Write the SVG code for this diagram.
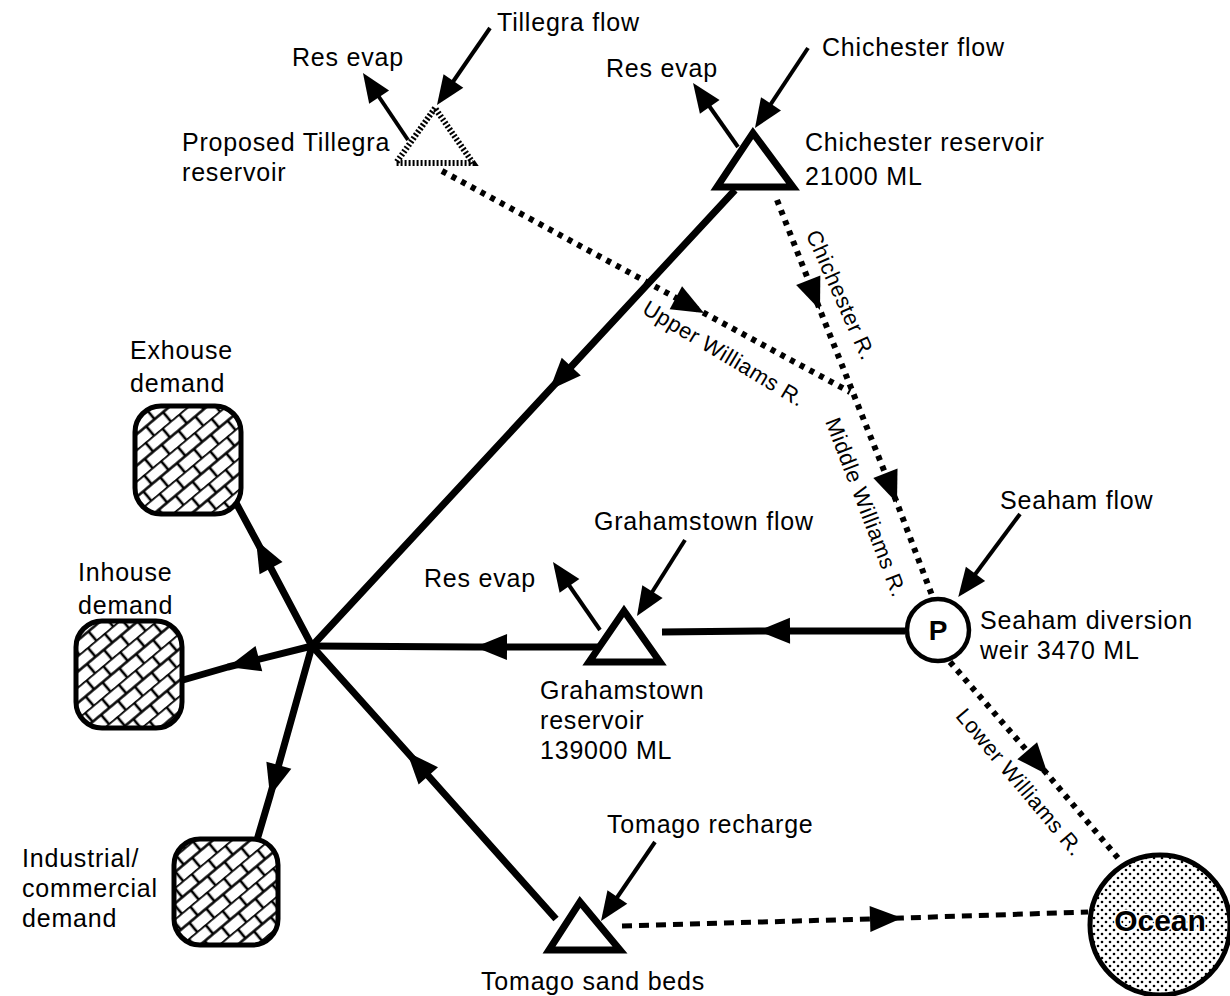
<svg xmlns="http://www.w3.org/2000/svg" width="1230" height="996" viewBox="0 0 1230 996">
<style>
text{font-family:"Liberation Sans",Arial,sans-serif;font-size:25px;letter-spacing:0.8px;fill:#000}
.rl{font-size:22px;letter-spacing:0.5px}
.thick{stroke:#000;stroke-width:7;fill:none;stroke-linejoin:round}
.thin{stroke:#000;stroke-width:4;fill:none}
.dash{stroke:#000;stroke-width:6;fill:none;stroke-dasharray:5 6}
.dash2{stroke:#000;stroke-width:5;fill:none;stroke-dasharray:10 7}
.tri{stroke:#000;stroke-width:7;fill:#fff;stroke-linejoin:miter}
.box{stroke:#000;stroke-width:5;fill:url(#brick)}
</style>
<defs>
<marker id="ahm" markerUnits="userSpaceOnUse" orient="auto" refX="0" refY="0" markerWidth="34" markerHeight="28" overflow="visible"><path d="M0,0 L-32,-13 L-32,13 z" fill="#000"/></marker>
<marker id="ahe" markerUnits="userSpaceOnUse" orient="auto" refX="0" refY="0" markerWidth="34" markerHeight="28" overflow="visible"><path d="M6,0 L-23,-12 L-23,12 z" fill="#000"/></marker>
<pattern id="brick" width="22" height="24" patternUnits="userSpaceOnUse" patternTransform="rotate(-40)">
<rect width="22" height="24" fill="#fff"/>
<path d="M0,0.5 H22 M0,12.5 H22 M3,0.5 V12.5 M14,12.5 V24.5" stroke="#000" stroke-width="2.6" fill="none"/>
</pattern>
<pattern id="dots" width="8" height="8" patternUnits="userSpaceOnUse">
<rect width="8" height="8" fill="#fff"/>
<circle cx="2" cy="2" r="1.3" fill="#000"/><circle cx="6" cy="6" r="1.3" fill="#000"/>
</pattern>
</defs>
<rect width="1230" height="996" fill="#fff"/>

<g id="connectors">
<!-- dashed rivers -->
<path class="dash" d="M442,171 L704,313 L850,392" marker-mid="url(#ahm)"/>
<path class="dash" d="M777,200 L820,310 L897,503 L933,598" marker-mid="url(#ahm)"/>
<path class="dash" d="M950,662 L1048,775 L1118,858" marker-mid="url(#ahm)"/>
<path class="dash2" d="M622,926 L902,918 L1088,912" marker-mid="url(#ahm)"/>
<!-- thick supply lines -->
<path class="thick" d="M735,190 L549.5,390 L312,646" marker-mid="url(#ahm)"/>
<path class="thick" d="M905,631 L758,631 L662,632" marker-mid="url(#ahm)"/>
<path class="thick" d="M598,647 L475,647 L312,646" marker-mid="url(#ahm)"/>
<path class="thick" d="M556,919 L407,752 L312,646" marker-mid="url(#ahm)"/>
<path class="thick" d="M312,646 L256,540 L228,488" marker-mid="url(#ahm)"/>
<path class="thick" d="M312,646 L228,667 L183,680" marker-mid="url(#ahm)"/>
<path class="thick" d="M312,646 L270,796 L257,840" marker-mid="url(#ahm)"/>
<!-- thin inflow / evaporation arrows -->
<path class="thin" d="M490,28 L440.4,100" marker-end="url(#ahe)"/>
<path class="thin" d="M408,140 L366.3,78" marker-end="url(#ahe)"/>
<path class="thin" d="M808,48 L758.3,123" marker-end="url(#ahe)"/>
<path class="thin" d="M738,147 L696.5,88" marker-end="url(#ahe)"/>
<path class="thin" d="M685,540 L640.2,611" marker-end="url(#ahe)"/>
<path class="thin" d="M600,630 L556.4,567" marker-end="url(#ahe)"/>
<path class="thin" d="M1020,514 L961.8,592.3" marker-end="url(#ahe)"/>
<path class="thin" d="M655,842 L604.4,916" marker-end="url(#ahe)"/>
<!-- river labels -->
<text class="rl" text-anchor="middle" transform="translate(834,298) rotate(66)">Chichester R.</text>
<text class="rl" text-anchor="middle" transform="translate(720,360) rotate(31)">Upper Williams R.</text>
<text class="rl" text-anchor="middle" transform="translate(859,510) rotate(69)">Middle Williams R.</text>
<text class="rl" text-anchor="middle" transform="translate(1014,787) rotate(50)">Lower Williams R.</text>
</g>

<g id="tillegra">
<polygon points="435,108 396,163 473,163" fill="#fff" stroke="#000" stroke-width="6" stroke-dasharray="2 2"/>
<text x="497" y="31">Tillegra flow</text>
<text x="292" y="66">Res evap</text>
<text x="182" y="151">Proposed Tillegra</text>
<text x="182" y="181">reservoir</text>
</g>

<g id="chichester">
<polygon class="tri" points="753,133 717,187 793,187"/>
<text x="822" y="56">Chichester flow</text>
<text x="606" y="77">Res evap</text>
<text x="805" y="151">Chichester reservoir</text>
<text x="805" y="185">21000 ML</text>
</g>

<g id="grahamstown">
<polygon class="tri" points="624,611 589,662 660,662"/>
<text x="594" y="530">Grahamstown flow</text>
<text x="424" y="587">Res evap</text>
<text x="540" y="699">Grahamstown</text>
<text x="540" y="729">reservoir</text>
<text x="540" y="759">139000 ML</text>
</g>

<g id="seaham">
<circle cx="938" cy="630" r="31" fill="#fff" stroke="#000" stroke-width="4.5"/>
<text x="938" y="640" text-anchor="middle" style="font-weight:bold;font-size:28px;letter-spacing:0">P</text>
<text x="1000" y="509">Seaham flow</text>
<text x="980" y="629">Seaham diversion</text>
<text x="980" y="659">weir 3470 ML</text>
</g>

<g id="tomago">
<polygon class="tri" points="580,902 549,950 620,950"/>
<text x="607" y="833">Tomago recharge</text>
<text x="481" y="990">Tomago sand beds</text>
</g>

<g id="ocean">
<circle cx="1160" cy="925" r="70" fill="url(#dots)" stroke="#000" stroke-width="5"/>
<text x="1160" y="931" text-anchor="middle" style="font-weight:bold;font-size:30px;letter-spacing:0;paint-order:stroke;stroke:#fff;stroke-width:3">Ocean</text>
</g>

<g id="exhouse">
<rect class="box" x="135" y="406" width="106" height="108" rx="26"/>
<text x="130" y="359">Exhouse</text>
<text x="130" y="392">demand</text>
</g>

<g id="inhouse">
<rect class="box" x="76" y="621" width="106" height="107" rx="26"/>
<text x="78" y="581">Inhouse</text>
<text x="78" y="614">demand</text>
</g>

<g id="industrial">
<rect class="box" x="174" y="839" width="104" height="106" rx="26"/>
<text x="22" y="867">Industrial/</text>
<text x="22" y="897">commercial</text>
<text x="22" y="927">demand</text>
</g>
</svg>
